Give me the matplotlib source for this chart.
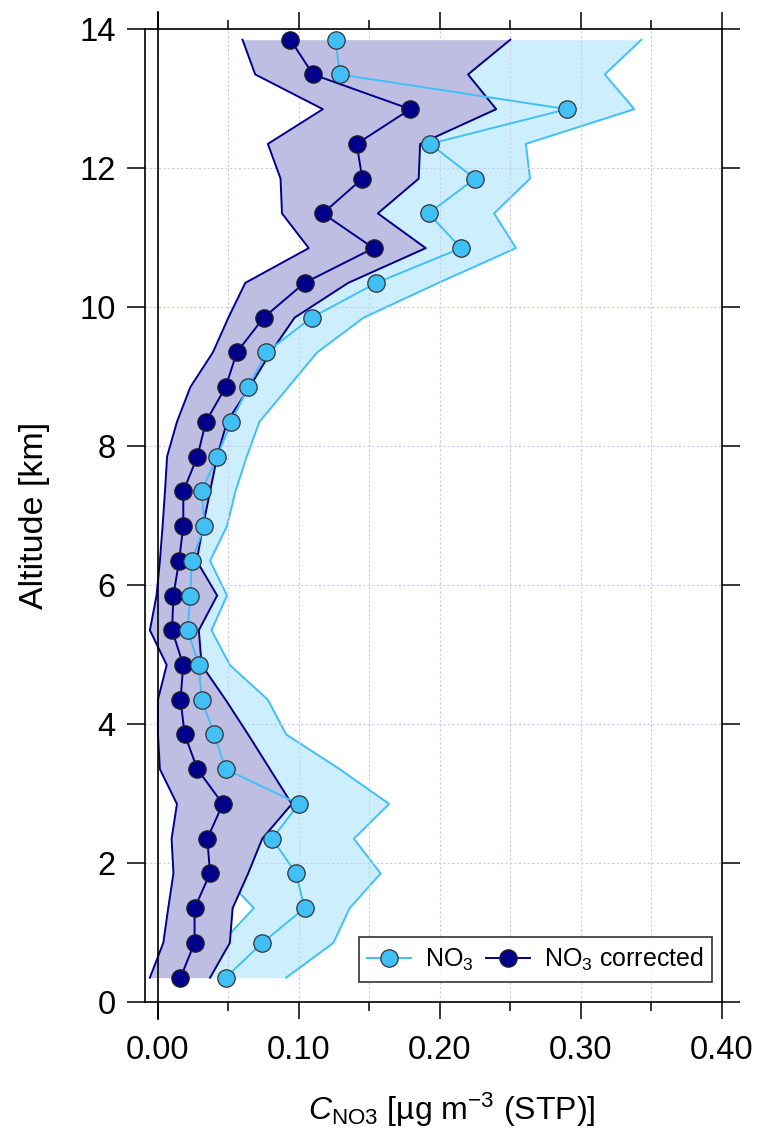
import matplotlib
matplotlib.use("Agg")
import matplotlib.pyplot as plt
from matplotlib.ticker import MultipleLocator, FormatStrFormatter

plt.rcParams['font.family'] = ['Liberation Sans', 'DejaVu Sans']
plt.rcParams['mathtext.fontset'] = 'custom'
plt.rcParams['mathtext.rm'] = 'Liberation Sans'
plt.rcParams['mathtext.it'] = 'Liberation Sans:italic'

# altitude bins [km]
altitude = [0.35, 0.85, 1.35, 1.85, 2.35, 2.85, 3.35, 3.85, 4.35, 4.85,
            5.35, 5.85, 6.35, 6.85, 7.35, 7.85, 8.35, 8.85, 9.35, 9.85,
            10.35, 10.85, 11.35, 11.85, 12.35, 12.85, 13.35, 13.85]

# NO3 (uncorrected)
no3 = [0.048, 0.074, 0.104, 0.098, 0.081, 0.100, 0.048, 0.040, 0.031, 0.029,
       0.021, 0.023, 0.024, 0.033, 0.031, 0.042, 0.052, 0.064, 0.077, 0.109,
       0.155, 0.215, 0.192, 0.225, 0.193, 0.290, 0.129, 0.126]
no3_lo = [0.010, 0.045, 0.068, 0.045, 0.040, 0.050, 0.020, 0.015, 0.010, 0.012,
          0.008, 0.008, 0.010, 0.018, 0.015, 0.022, 0.032, 0.040, 0.045, 0.075,
          0.110, 0.170, 0.145, 0.180, 0.125, 0.235, 0.100, 0.100]
no3_hi = [0.091, 0.1245, 0.136, 0.158, 0.139, 0.164, 0.129, 0.091, 0.078, 0.051,
          0.038, 0.049, 0.037, 0.049, 0.055, 0.063, 0.072, 0.0925, 0.113, 0.146,
          0.199, 0.254, 0.2385, 0.264, 0.261, 0.338, 0.317, 0.343]

# NO3 corrected
no3_corr = [0.016, 0.026, 0.026, 0.037, 0.035, 0.046, 0.028, 0.019, 0.016, 0.018,
            0.010, 0.011, 0.015, 0.018, 0.018, 0.028, 0.034, 0.048, 0.056, 0.075,
            0.104, 0.153, 0.117, 0.145, 0.141, 0.179, 0.110, 0.094]
corr_lo = [-0.0057, 0.0038, 0.0073, 0.011, 0.0097, 0.0135, 0.0014, 0.0, 0.0, 0.0062,
           -0.0057, -0.001, 0.0014, 0.0033, 0.005, 0.0065, 0.0135, 0.023, 0.039, 0.050,
           0.062, 0.107, 0.088, 0.087, 0.078, 0.117, 0.069, 0.060]
corr_hi = [0.037, 0.051, 0.053, 0.064, 0.074, 0.095, 0.0795, 0.064, 0.048, 0.031,
           0.029, 0.042, 0.0275, 0.032, 0.037, 0.042, 0.049, 0.065, 0.080, 0.097,
           0.135, 0.190, 0.156, 0.185, 0.186, 0.240, 0.220, 0.250]

light = '#41c0f8'
dark = '#00008b'

fig = plt.figure(figsize=(7.57, 11.3), dpi=100)
ax = fig.add_axes([0.1915, 0.1133, 0.9534 - 0.1915, 0.9741 - 0.1133])

# shaded ranges
ax.fill_betweenx(altitude, no3_lo, no3_hi, color='#cdeefc', lw=0, zorder=1)
ax.plot(no3_lo, altitude, color=light, lw=1.4, zorder=1.1)
ax.plot(no3_hi, altitude, color=light, lw=1.4, zorder=1.1)
ax.fill_betweenx(altitude, corr_lo, corr_hi, color='#bebee3', lw=0, zorder=2)
ax.plot(corr_lo, altitude, color=dark, lw=1.4, zorder=2.1)
ax.plot(corr_hi, altitude, color=dark, lw=1.4, zorder=2.1)

ax.plot(no3_corr, altitude, '-o', color=dark, lw=1.4, ms=12.5,
        mfc=dark, mec='#222222', mew=0.9, zorder=3, label='NO$_3$ corrected')
ax.plot(no3, altitude, '-o', color=light, lw=1.4, ms=12.5,
        mfc=light, mec='#333333', mew=0.9, zorder=4, label='NO$_3$')

ax.axvline(0, color='k', lw=1.2, ymin=-0.018, ymax=1.018, clip_on=False, zorder=5)

ax.set_xlim(-0.0092, 0.40)
ax.set_ylim(0, 14)
ax.xaxis.set_major_locator(MultipleLocator(0.1))
ax.xaxis.set_minor_locator(MultipleLocator(0.05))
ax.xaxis.set_major_formatter(FormatStrFormatter('%.2f'))
ax.yaxis.set_major_locator(MultipleLocator(2))

ax.tick_params(which='both', direction='out', top=True, right=True, width=1.1, color='k')
ax.tick_params(axis='x', which='major', length=12.5, labelsize=23.5, pad=11)
ax.tick_params(axis='x', which='minor', length=6.7)
ax.tick_params(axis='y', which='major', length=13, labelsize=23.5, pad=8)
for s in ax.spines.values():
    s.set_linewidth(1.2)

ax.grid(which='both', axis='x', color='#c8c8ff', ls=(0, (2, 2)), lw=0.8, zorder=0)
ax.grid(which='major', axis='y', color='#c8c8ff', ls=(0, (2, 2)), lw=0.8, zorder=0)

ax.set_ylabel('Altitude [km]', fontsize=24.5, labelpad=21)
ax.set_xlabel(r'$C_{\mathrm{NO3}}$ [µg m$^{-3}$ (STP)]', fontsize=23, labelpad=18)
ax.xaxis.label.set_x(0.531)

h, l = ax.get_legend_handles_labels()
leg = ax.legend(h[::-1], l[::-1], ncol=2, loc='lower right', fontsize=18,
                bbox_to_anchor=(0.983, 0.021), frameon=True, fancybox=False,
                handlelength=1.75, handletextpad=0.55, columnspacing=0.5,
                borderpad=0.35, borderaxespad=0)
leg.get_frame().set_edgecolor('k')
leg.get_frame().set_linewidth(1.2)
leg.set_zorder(10)

fig.savefig('out.png', dpi=100)
